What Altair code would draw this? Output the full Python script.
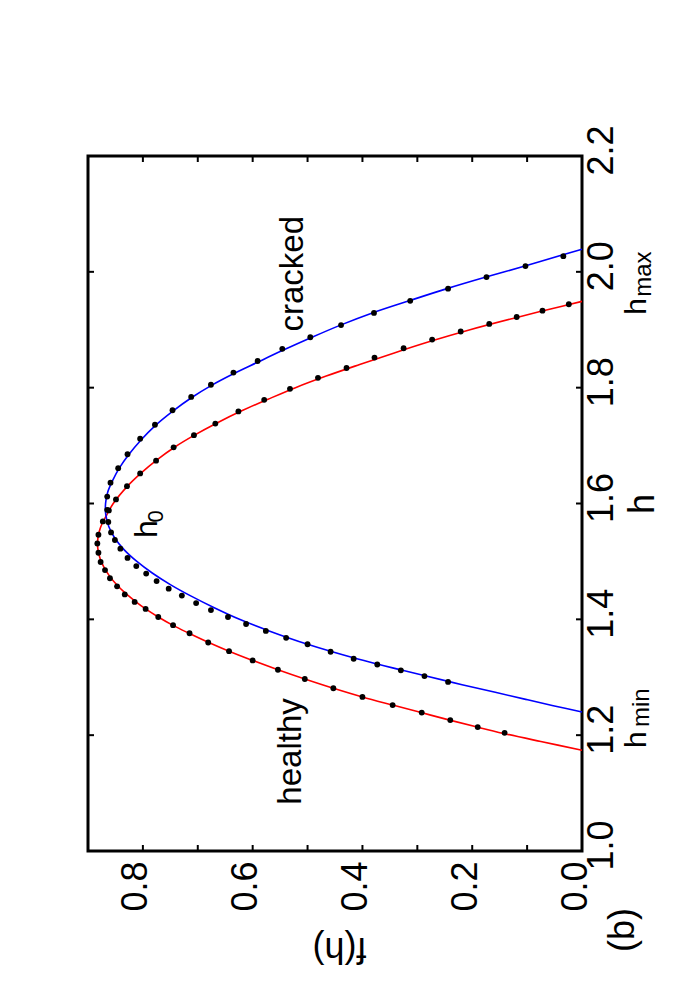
import altair as alt
import pandas as pd

FONT = "Liberation Sans"
W, H = 494, 695
TICK = 6

# ---- fitted curves (h, f(h)) ----
red_h = [1.174, 1.189, 1.203, 1.214, 1.226, 1.239, 1.252, 1.266, 1.281, 1.297, 1.313, 1.329,
         1.345, 1.360, 1.376, 1.390, 1.404, 1.418, 1.432, 1.446, 1.460, 1.475, 1.490, 1.505,
         1.520, 1.535, 1.550, 1.565, 1.580, 1.600, 1.630, 1.652, 1.675, 1.698, 1.718, 1.739,
         1.760, 1.780, 1.800, 1.820, 1.840, 1.860, 1.880, 1.900, 1.920, 1.935, 1.949]
red_f = [0.0, 0.075, 0.143, 0.191, 0.241, 0.293, 0.345, 0.400, 0.453, 0.505, 0.554, 0.600,
         0.643, 0.680, 0.716, 0.746, 0.772, 0.795, 0.815, 0.833, 0.848, 0.861, 0.871, 0.878,
         0.8818, 0.8825, 0.880, 0.8745, 0.866, 0.854, 0.828, 0.804, 0.775, 0.741, 0.706, 0.665,
         0.620, 0.572, 0.522, 0.466, 0.405, 0.342, 0.276, 0.204, 0.124, 0.061, 0.0]

blue_h = [1.240, 1.250, 1.261, 1.274, 1.292, 1.312, 1.332, 1.357, 1.380, 1.400, 1.420, 1.440,
          1.460, 1.480, 1.500, 1.520, 1.540, 1.560, 1.580, 1.600, 1.620, 1.640, 1.661, 1.684,
          1.710, 1.734, 1.759, 1.783, 1.804, 1.824, 1.843, 1.864, 1.887, 1.908, 1.929, 1.950,
          1.971, 1.991, 2.010, 2.030, 2.039]
blue_f = [0.0, 0.048, 0.099, 0.158, 0.240, 0.327, 0.410, 0.500, 0.570, 0.624, 0.670, 0.712,
          0.750, 0.783, 0.811, 0.834, 0.851, 0.862, 0.8675, 0.868, 0.864, 0.855, 0.843, 0.826,
          0.803, 0.778, 0.746, 0.711, 0.675, 0.635, 0.593, 0.546, 0.492, 0.440, 0.382, 0.315,
          0.246, 0.175, 0.104, 0.033, 0.0]

# ---- measured points ----
healthy_h = [1.204, 1.214, 1.226, 1.239, 1.252, 1.266, 1.281, 1.297, 1.313, 1.329, 1.345, 1.360,
             1.376, 1.390, 1.404, 1.418, 1.430, 1.443, 1.457, 1.471, 1.485, 1.499, 1.515, 1.531,
             1.546, 1.569, 1.588, 1.607, 1.630, 1.652, 1.674, 1.697, 1.718, 1.738, 1.759, 1.779,
             1.798, 1.817, 1.834, 1.852, 1.868, 1.883, 1.897, 1.910, 1.922, 1.933, 1.944]
healthy_f = [0.141, 0.190, 0.240, 0.292, 0.345, 0.400, 0.453, 0.505, 0.554, 0.600, 0.643, 0.681,
             0.715, 0.745, 0.772, 0.795, 0.815, 0.833, 0.847, 0.860, 0.869, 0.877, 0.881, 0.883,
             0.881, 0.873, 0.862, 0.849, 0.829, 0.805, 0.776, 0.744, 0.707, 0.668, 0.626, 0.579,
             0.532, 0.481, 0.429, 0.378, 0.325, 0.273, 0.221, 0.169, 0.119, 0.072, 0.024]

cracked_h = [1.292, 1.302, 1.312, 1.322, 1.332, 1.344, 1.357, 1.368, 1.380, 1.392, 1.404, 1.416,
             1.428, 1.441, 1.453, 1.466, 1.479, 1.492, 1.506, 1.522, 1.537, 1.550, 1.568, 1.589,
             1.612, 1.636, 1.661, 1.685, 1.712, 1.736, 1.761, 1.784, 1.805, 1.826, 1.846, 1.867,
             1.887, 1.908, 1.929, 1.950, 1.971, 1.991, 2.010, 2.027]
cracked_f = [0.244, 0.287, 0.330, 0.373, 0.416, 0.458, 0.500, 0.539, 0.576, 0.612, 0.645, 0.676,
             0.703, 0.729, 0.753, 0.775, 0.794, 0.812, 0.828, 0.841, 0.851, 0.858, 0.863, 0.865,
             0.865, 0.859, 0.845, 0.828, 0.805, 0.778, 0.746, 0.712, 0.676, 0.635, 0.591, 0.546,
             0.495, 0.439, 0.379, 0.313, 0.244, 0.174, 0.103, 0.034]

# ---- ticks ----
f_labels = [0.0, 0.2, 0.4, 0.6, 0.8]
f_minor = [0.1, 0.2, 0.3, 0.4, 0.5, 0.6, 0.7, 0.8]
h_labels = [1.0, 1.2, 1.4, 1.6, 1.8, 2.0, 2.2]
h_inner = [1.2, 1.4, 1.6, 1.8, 2.0]

# ---- annotations (text, f, h) ----
big_text = ["cracked", "healthy"]
big_f = [0.508, 0.512]
big_h = [1.897, 1.080]

h0_main = ["h"]
h0_f = [0.7745]
h0_h = [1.5406]
h0_sub = ["0"]
h0_sub_f = [0.763]
h0_sub_h = [1.567]

hm_text = ["h", "h"]
hm_f = [-0.117, -0.117]
hm_h = [1.178, 1.926]
hm_sub = ["min", "max"]
hm_sub_f = [-0.1224, -0.1254]
hm_sub_h = [1.214, 1.957]

panel_text = ["(b)"]
panel_f = [-0.095]
panel_h = [0.8256]

x_scale = alt.Scale(domain=[0, 0.9], reverse=True, nice=False, zero=False)
y_scale = alt.Scale(domain=[1.0, 2.2], nice=False, zero=False)


def line_df(hs, fs):
    return pd.DataFrame({"h": hs, "f": fs, "i": list(range(len(hs)))})


axis_bottom = alt.Axis(orient="bottom", values=f_labels, format=".1f", labelAngle=270,
                       labelAlign="right", labelBaseline="middle", labelPadding=10,
                       labelOffset=-7, labelFontSize=36, labelFont=FONT, labelColor="black",
                       labelFlush=False, labelOverlap=False, ticks=False, tickSize=0,
                       domain=False, grid=False, title="f(h)", titleAngle=180,
                       titleAlign="left", titleBaseline="alphabetic", titleX=278, titleY=86,
                       titleFontSize=36, titleFont=FONT, titleFontWeight="normal",
                       titleColor="black")
axis_right = alt.Axis(orient="right", values=h_labels, format=".1f", labelAngle=270,
                      labelAlign="center", labelBaseline="top", labelPadding=2,
                      labelOffset=-6, labelFontSize=36, labelFont=FONT, labelColor="black",
                      labelFlush=False, labelOverlap=False, ticks=False, tickSize=0,
                      domain=False, grid=False, title="h", titleAngle=270,
                      titleAlign="center", titleBaseline="alphabetic", titleX=71, titleY=347.5,
                      titleFontSize=36, titleFont=FONT, titleFontWeight="normal",
                      titleColor="black")

red = alt.Chart(line_df(red_h, red_f)).mark_line(
    color="#ff0000", strokeWidth=1.6, interpolate="catmull-rom"
).encode(
    x=alt.X("f:Q", scale=x_scale, axis=axis_bottom),
    y=alt.Y("h:Q", scale=y_scale, axis=axis_right),
    order="i:Q",
)

blue = alt.Chart(line_df(blue_h, blue_f)).mark_line(
    color="#0000ff", strokeWidth=1.6, interpolate="catmull-rom"
).encode(
    x=alt.X("f:Q", scale=x_scale, axis=None),
    y=alt.Y("h:Q", scale=y_scale, axis=None),
    order="i:Q",
)

healthy = alt.Chart(pd.DataFrame({"h": healthy_h, "f": healthy_f})).mark_circle(
    color="black", size=34, opacity=1
).encode(
    x=alt.X("f:Q", scale=x_scale, axis=None),
    y=alt.Y("h:Q", scale=y_scale, axis=None),
)

cracked = alt.Chart(pd.DataFrame({"h": cracked_h, "f": cracked_f})).mark_circle(
    color="black", size=34, opacity=1
).encode(
    x=alt.X("f:Q", scale=x_scale, axis=None),
    y=alt.Y("h:Q", scale=y_scale, axis=None),
)

# inward tick marks on all four sides of the frame (positions from the scales)
f_tick_df = pd.DataFrame({"f": f_minor})
h_tick_df = pd.DataFrame({"h": h_inner})
tick_style = dict(color="black", strokeWidth=2)
ticks_bottom = alt.Chart(f_tick_df).mark_rule(**tick_style).encode(
    x=alt.X("f:Q", scale=x_scale, axis=None), y=alt.value(H - TICK), y2=alt.value(H))
ticks_top = alt.Chart(f_tick_df).mark_rule(**tick_style).encode(
    x=alt.X("f:Q", scale=x_scale, axis=None), y=alt.value(0), y2=alt.value(TICK))
ticks_left = alt.Chart(h_tick_df).mark_rule(**tick_style).encode(
    y=alt.Y("h:Q", scale=y_scale, axis=None), x=alt.value(0), x2=alt.value(TICK))
ticks_right = alt.Chart(h_tick_df).mark_rule(**tick_style).encode(
    y=alt.Y("h:Q", scale=y_scale, axis=None), x=alt.value(W - TICK), x2=alt.value(W))


def text_layer(texts, fs, hs, size, align="left", baseline="alphabetic"):
    df = pd.DataFrame({"t": texts, "f": fs, "h": hs})
    return alt.Chart(df).mark_text(
        angle=270, align=align, baseline=baseline, fontSize=size, font=FONT, color="black"
    ).encode(
        x=alt.X("f:Q", scale=x_scale, axis=None),
        y=alt.Y("h:Q", scale=y_scale, axis=None),
        text="t:N",
    )


texts = [
    text_layer(big_text, big_f, big_h, 33),
    text_layer(h0_main, h0_f, h0_h, 32),
    text_layer(h0_sub, h0_sub_f, h0_sub_h, 22),
    text_layer(hm_text, hm_f, hm_h, 30),
    text_layer(hm_sub, hm_sub_f, hm_sub_h, 24),
    text_layer(panel_text, panel_f, panel_h, 36),
]

chart = alt.layer(
    red, blue, healthy, cracked, ticks_bottom, ticks_top, ticks_left, ticks_right, *texts
).resolve_scale(
    x="shared", y="shared"
).resolve_axis(
    x="independent", y="independent"
).properties(
    width=W, height=H,
    autosize=alt.AutoSizeParams(type="none"),
    padding={"left": 80, "top": 148, "right": 110, "bottom": 130},
).configure_view(
    stroke="black", strokeWidth=3
)

chart.save("out.html", embed_options={"renderer": "svg", "actions": False})
